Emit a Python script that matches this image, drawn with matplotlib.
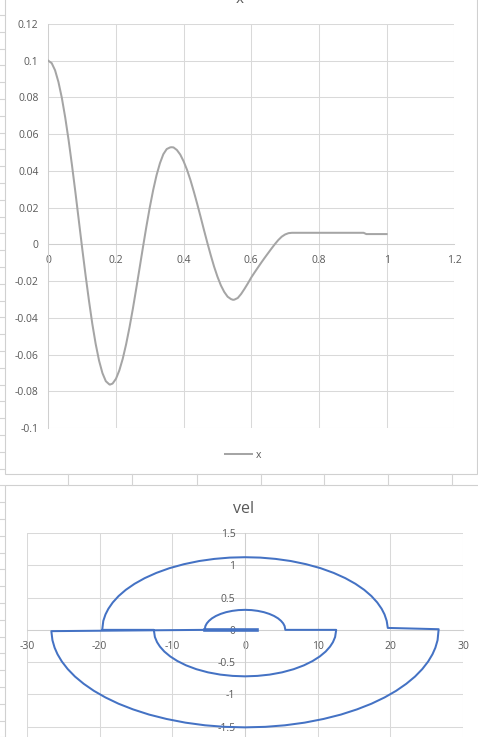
import matplotlib.pyplot as plt
from matplotlib.patches import Rectangle

plt.rcParams['font.family'] = ['Open Sans', 'DejaVu Sans']

# chart 1: position x over time
time = [0, 0.01, 0.02, 0.03, 0.04, 0.05, 0.06, 0.07, 0.08, 0.09, 0.10, 0.11, 0.12, 0.13, 0.14,
        0.15, 0.16, 0.17, 0.18, 0.182, 0.19,
        0.20, 0.21, 0.22, 0.23, 0.24, 0.25, 0.26, 0.27, 0.28, 0.29, 0.30, 0.31, 0.32, 0.33,
        0.34, 0.35, 0.36, 0.364, 0.37,
        0.38, 0.39, 0.40, 0.41, 0.42, 0.43, 0.44, 0.45, 0.46, 0.47, 0.48, 0.49, 0.50, 0.51,
        0.52, 0.53, 0.54, 0.546, 0.55,
        0.56, 0.57, 0.58, 0.59, 0.60, 0.61, 0.62, 0.63, 0.64, 0.65, 0.66, 0.67, 0.68, 0.69,
        0.70, 0.71, 0.72, 0.75, 0.80, 0.85, 0.90, 0.932, 0.94, 0.97, 1.0]
pos_x = [0.1000, 0.0987, 0.0948, 0.0884, 0.0798, 0.0691, 0.0568, 0.0431, 0.0285, 0.0133,
         -0.0019, -0.0166, -0.0304, -0.0432, -0.0542,
         -0.0633, -0.0701, -0.0745, -0.0762, -0.0764, -0.0758,
         -0.0732, -0.0686, -0.0623, -0.0544, -0.0452, -0.0350, -0.0240, -0.0127, -0.0013, 0.0098,
         0.0202, 0.0296, 0.0377, 0.0442,
         0.0491, 0.0519, 0.0528, 0.0529, 0.0528,
         0.0514, 0.0489, 0.0452, 0.0406, 0.0351, 0.0288, 0.0221, 0.0151, 0.0079, 0.0009,
         -0.0058, -0.0121, -0.0176, -0.0223,
         -0.0259, -0.0285, -0.0298, -0.0302, -0.0301,
         -0.0292, -0.0270, -0.0242, -0.0212, -0.0180, -0.0152, -0.0125, -0.0098, -0.0072,
         -0.0047, -0.0022, 0.0002, 0.0024, 0.0042,
         0.0054, 0.0061, 0.0063, 0.0063, 0.0063, 0.0063, 0.0063, 0.0063, 0.0056, 0.0056, 0.0056]
x_ticks = [0, 0.2, 0.4, 0.6, 0.8, 1, 1.2]
x_tick_labels = ['0', '0.2', '0.4', '0.6', '0.8', '1', '1.2']
y_ticks = [-0.1, -0.08, -0.06, -0.04, -0.02, 0, 0.02, 0.04, 0.06, 0.08, 0.1, 0.12]
y_tick_labels = ['-0.1', '-0.08', '-0.06', '-0.04', '-0.02', '0',
                 '0.02', '0.04', '0.06', '0.08', '0.1', '0.12']

# chart 2: vel, read arc by arc in the order the trace runs
start_acc = [-5.55, -26.65]
start_vel = [0.0, -0.02]
outer_low_acc = [-26.5, -26.2, -25.8, -25.2, -24.4, -23.4, -22.2, -20.8, -19.2, -17.4, -15.4,
                 -13.2, -10.8, -8.2, -5.5, -2.8, 0.0, 2.8, 5.5, 8.2, 10.8, 13.2, 15.4, 17.4,
                 19.2, 20.8, 22.2, 23.4, 24.4, 25.2, 25.8, 26.2, 26.5, 26.65]
outer_low_vel = [-0.160, -0.276, -0.378, -0.491, -0.607, -0.723, -0.835, -0.944, -1.047, -1.144,
                 -1.232, -1.312, -1.380, -1.437, -1.478, -1.502, -1.510, -1.502, -1.478, -1.437,
                 -1.380, -1.312, -1.232, -1.144, -1.047, -0.944, -0.835, -0.723, -0.607, -0.491,
                 -0.378, -0.276, -0.160, 0.01]
outer_up_acc = [19.65, 19.5, 19.2, 18.8, 18.2, 17.4, 16.4, 15.2, 13.8, 12.2, 10.4, 8.4, 6.3, 4.2,
                2.1, 0.0, -2.1, -4.2, -6.3, -8.4, -10.4, -12.2, -13.8, -15.2, -16.4, -17.4,
                -18.2, -18.8, -19.2, -19.5, -19.65]
outer_up_vel = [0.03, 0.139, 0.239, 0.327, 0.424, 0.523, 0.620, 0.713, 0.801, 0.882, 0.955, 1.017,
                1.066, 1.099, 1.119, 1.125, 1.119, 1.099, 1.066, 1.017, 0.955, 0.882, 0.801,
                0.713, 0.620, 0.523, 0.424, 0.327, 0.239, 0.139, 0.0]
inner_low_acc = [-12.55, -12.4, -12.1, -11.7, -11.1, -10.3, -9.3, -8.1, -6.7, -5.1, -3.4, -1.7,
                 0.0, 1.7, 3.4, 5.1, 6.7, 8.1, 9.3, 10.3, 11.1, 11.7, 12.1, 12.4, 12.55]
inner_low_vel = [0.0, -0.111, -0.191, -0.260, -0.336, -0.411, -0.483, -0.550, -0.609, -0.658,
                 -0.693, -0.713, -0.720, -0.713, -0.693, -0.658, -0.609, -0.550, -0.483, -0.411,
                 -0.336, -0.260, -0.191, -0.111, 0.0]
inner_up_acc = [5.55, 5.45, 5.25, 4.95, 4.55, 4.0, 3.35, 2.6, 1.75, 0.9, 0.0, -0.9, -1.75, -2.6,
                -3.35, -4.0, -4.55, -4.95, -5.25, -5.45, -5.55]
inner_up_vel = [0.0, 0.059, 0.101, 0.140, 0.178, 0.215, 0.247, 0.274, 0.294, 0.306, 0.310, 0.306,
                0.294, 0.274, 0.247, 0.215, 0.178, 0.140, 0.101, 0.059, 0.0]
stuck_acc = [-5.55, 1.7]
stuck_vel = [0.0, 0.0]
acc_ticks = [-30, -20, -10, 0, 10, 20, 30]
acc_tick_labels = ['-30', '-20', '-10', '0', '10', '20', '30']
vel_ticks = [-1.5, -1, -0.5, 0, 0.5, 1, 1.5]
vel_tick_labels = ['-1.5', '-1', '-0.5', '0', '0.5', '1', '1.5']

acc = start_acc + outer_low_acc + outer_up_acc + inner_low_acc + inner_up_acc
vel = start_vel + outer_low_vel + outer_up_vel + inner_low_vel + inner_up_vel

W, H = 478, 737
GRID = '#D9D9D9'
TEXT = '#595959'

fig = plt.figure(figsize=(W / 100, H / 100), dpi=100)

# spreadsheet backdrop, in pixel coordinates
bg = fig.add_axes([0, 0, 1, 1])
bg.set_xlim(0, W)
bg.set_ylim(H, 0)
bg.axis('off')
for col in [68, 132.5, 197, 261, 324.5, 388, 452]:
    bg.plot([col, col], [474, 485], color='#D4D4D4', lw=0.8)
for k in range(-27, 18):
    yy = 451.7 + 16.8 * k
    bg.plot([0, 4.5], [yy, yy], color='#D4D4D4', lw=0.8)
bg.add_patch(Rectangle((4.7, -2), 472.6, 476, facecolor='white', edgecolor='#D0D0D0', lw=0.8))
bg.add_patch(Rectangle((4.7, 485), 480, 260, facecolor='white', edgecolor='#D0D0D0', lw=0.8))


def style_axes(ax, xpad, ypad):
    ax.set_facecolor('none')
    ax.grid(True, color=GRID, lw=0.75)
    ax.set_axisbelow(True)
    for side in ['top', 'right']:
        ax.spines[side].set_visible(False)
    for side in ['left', 'bottom']:
        ax.spines[side].set_color('#CFCFCF')
        ax.spines[side].set_linewidth(0.75)
    ax.tick_params(length=0, labelsize=7.5, colors=TEXT)
    ax.tick_params(axis='x', pad=xpad)
    ax.tick_params(axis='y', pad=ypad)


# chart 1
ax1 = fig.add_axes([48.3 / W, (H - 428) / H, 406 / W, 404 / H])
ax1.plot(time, pos_x, color='#A5A5A5', lw=1.45, label='x', zorder=3)
ax1.set_xlim(0, 1.2)
ax1.set_ylim(-0.1, 0.12)
ax1.set_xticks(x_ticks, x_tick_labels)
ax1.set_yticks(y_ticks, y_tick_labels)
style_axes(ax1, 8, 7)
ax1.spines['bottom'].set_position(('data', 0))
ax1.legend(loc='center', bbox_to_anchor=(243 / W, 1 - 455 / H), bbox_transform=fig.transFigure,
           frameon=False, fontsize=7.5, handlelength=2.6, handletextpad=0.3, labelcolor=TEXT)
fig.text(240 / W, 1 - 3 / H, 'x', ha='center', va='baseline', fontsize=11, color=TEXT)

# chart 2
ax2 = fig.add_axes([27 / W, -22 / H, 436 / W, 226 / H])
ax2.plot(acc, vel, color='#4472C4', lw=1.45, zorder=3)
ax2.plot(stuck_acc, stuck_vel, color='#4472C4', lw=2.6, zorder=3)
ax2.set_xlim(-30, 30)
ax2.set_ylim(-2, 1.5)
ax2.set_xticks(acc_ticks, acc_tick_labels)
ax2.set_yticks(vel_ticks + [-2], vel_tick_labels + [''])
style_axes(ax2, 8, 7)
ax2.spines['bottom'].set_position(('data', 0))
ax2.spines['left'].set_position(('data', 0))
fig.text(244 / W, 1 - 513 / H, 'vel', ha='center', va='baseline', fontsize=11.5, color=TEXT)

fig.savefig('out.png', dpi=100)
